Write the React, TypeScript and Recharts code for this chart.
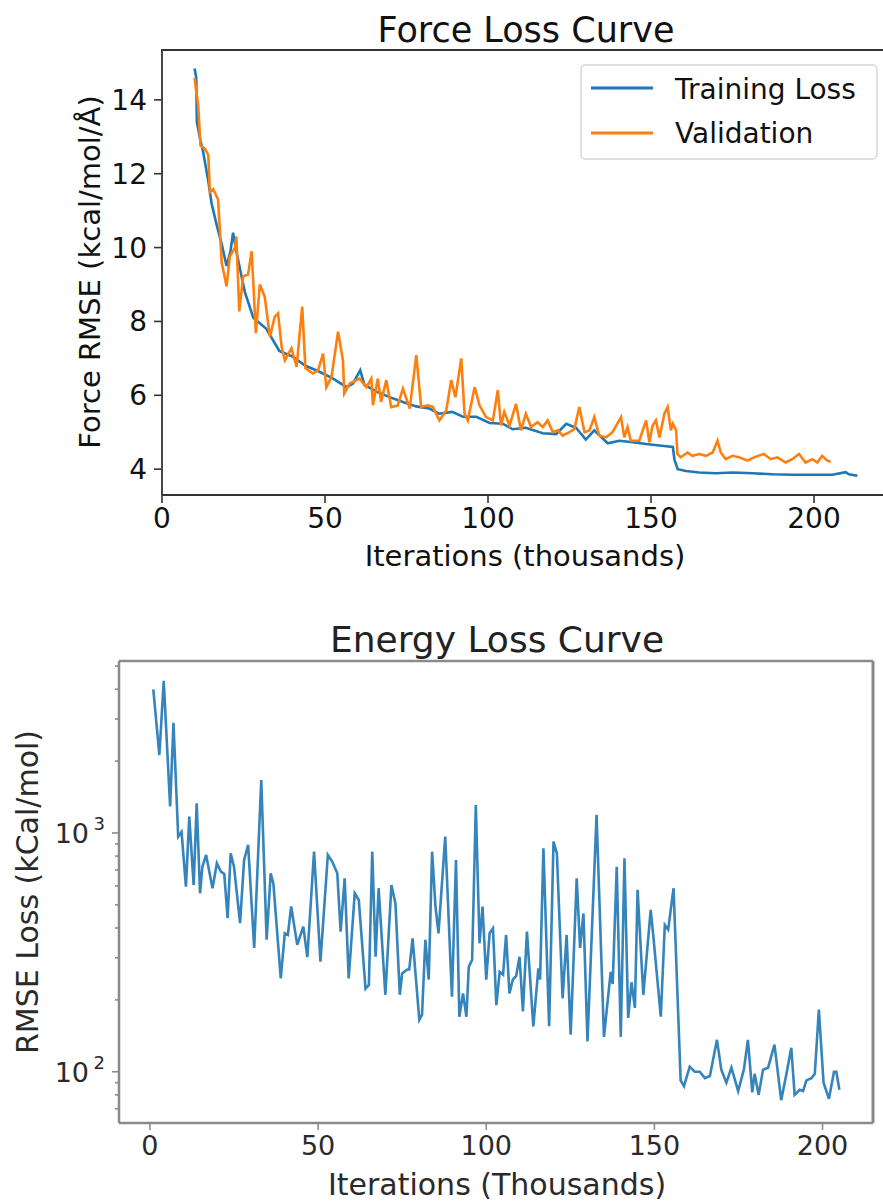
import { Line, LineChart, XAxis, YAxis } from "recharts";

// Two matplotlib-style loss curves, stacked: force RMSE (linear) and energy RMSE (log y).
const FONT = "DejaVu Sans, Verdana, sans-serif";
const BLUE = "#1f77b4";
const ORANGE = "#ff7f0e";

// --- Force loss: training curve (iterations in thousands, RMSE kcal/mol/Å)
const trainIter = [
  10, 10.5, 10.7, 11.8, 12.6, 14.2, 15.2, 16.8, 18.3, 19.8, 21, 21.8, 22.8, 25.4, 28, 32, 36, 40, 44, 48,
  52.5, 56.6, 58.6, 60.8, 62.1, 65.8, 69.8, 73.9, 78, 82, 85, 89, 92.3, 96.4, 100.5, 104.5, 107.6, 111.6,
  116.8, 120.9, 124, 127, 130, 132.6, 136.7, 140.3, 144.4, 148.5, 152.6, 156.7, 157.2, 158.2, 160.7, 164.8,
  169.9, 175, 181.2, 187.3, 193.4, 199.5, 205.6, 209.7, 210.7, 213.3,
];
const trainRmse = [
  14.85, 14.6, 13.4, 12.9, 12.6, 11.8, 11.2, 10.6, 10.1, 9.5, 9.9, 10.4, 9.9, 8.8, 8.1, 7.8, 7.2, 7.05, 6.8,
  6.65, 6.45, 6.22, 6.32, 6.68, 6.28, 6.1, 5.95, 5.82, 5.7, 5.64, 5.5, 5.55, 5.42, 5.42, 5.25, 5.23, 5.08,
  5.12, 4.97, 4.95, 5.23, 5.12, 4.8, 5.05, 4.7, 4.77, 4.73, 4.68, 4.64, 4.6, 4.25, 4.0, 3.95, 3.91, 3.89,
  3.91, 3.89, 3.86, 3.85, 3.85, 3.85, 3.92, 3.86, 3.82,
];

// --- Force loss: validation curve
const valIter = [
  10, 10.4, 11.1, 11.8, 13.2, 14.2, 14.7, 15.7, 17.2, 17.8, 18.3, 19.8, 20.8, 22.4, 22.8, 23.7, 24.9, 26.4,
  27.5, 28.8, 30, 31.5, 33.1, 34.6, 35.6, 36.7, 37.7, 39.7, 41.3, 43, 44, 46.3, 47.9, 49.4, 50.4, 52, 54,
  55.5, 55.9, 57.6, 60.6, 62.7, 64.2, 64.7, 66.2, 67.2, 68.8, 70.3, 72.3, 73.9, 76, 78, 79.5, 81.6, 83.1,
  85.1, 87.2, 88.7, 90, 91.8, 92.8, 93.8, 95.9, 97.4, 99.4, 101.5, 103, 104, 105, 106.6, 108.6, 110.1,
  111.6, 113.2, 115.2, 116.8, 118.3, 119.9, 121.4, 122.9, 125, 126.5, 128, 129.6, 131.1, 132.6, 134.1,
  136.2, 138.2, 140.8, 141.8, 142.8, 143.8, 146.4, 148.5, 149.5, 150.5, 151.5, 152.6, 154.1, 155.1, 156.1,
  156.7, 157.7, 158.1, 159.1, 161.2, 162.7, 164.8, 166.8, 168.9, 170.4, 171.4, 172.9, 175, 177, 179.6,
  181.6, 184.6, 186.7, 188.8, 191.3, 193.3, 195.4, 197.4, 199.5, 201, 202.5, 204.1, 205.1,
];
const valRmse = [
  14.6, 14.3, 13.85, 12.76, 12.67, 12.5, 11.5, 11.58, 11.3, 10.4, 9.6, 8.95, 9.76, 10.0, 10.3, 8.27, 9.22,
  9.27, 9.9, 7.68, 9.0, 8.67, 7.59, 8.13, 8.22, 7.31, 6.95, 7.27, 6.77, 8.4, 6.73, 6.59, 6.68, 7.13, 6.22,
  6.5, 7.72, 6.95, 6.05, 6.32, 6.45, 6.22, 6.45, 5.73, 6.45, 5.82, 6.41, 5.68, 5.72, 6.18, 5.64, 7.09, 5.68,
  5.73, 5.68, 5.32, 5.59, 6.41, 5.95, 7.0, 5.5, 5.32, 6.22, 5.73, 5.41, 5.32, 6.14, 5.18, 5.55, 5.18, 5.77,
  5.05, 5.5, 5.14, 5.27, 5.14, 5.32, 5.0, 5.05, 4.91, 5.0, 5.09, 5.68, 5.0, 5.05, 5.41, 4.91, 4.86, 5.0,
  5.41, 4.86, 5.14, 4.77, 4.77, 5.32, 4.73, 5.18, 5.32, 4.86, 5.5, 5.68, 5.05, 5.23, 5.05, 4.41, 4.32, 4.45,
  4.36, 4.41, 4.36, 4.45, 4.77, 4.45, 4.27, 4.36, 4.32, 4.23, 4.32, 4.41, 4.27, 4.32, 4.18, 4.27, 4.41,
  4.18, 4.27, 4.18, 4.36, 4.23, 4.2,
];

// --- Energy loss (iterations in thousands, RMSE kCal/mol, log scale)
const energyIter = [
  1, 2.8, 4.1, 6, 7, 8.4, 9.4, 10.7, 11.7, 13, 13.9, 14.9, 15.6, 16.7, 18.6, 19.9, 21.1, 22.1, 23.1, 24, 25,
  26.8, 28, 29.2, 31, 33.1, 34.7, 35.9, 36.7, 38.9, 40.1, 41, 42, 43.8, 45.6, 46.8, 48.8, 50.7, 52.9, 54.2,
  55.7, 56.7, 57.9, 59.1, 60.9, 62.1, 64.1, 65.1, 66.1, 67.1, 68, 70, 71.8, 73, 74.3, 75, 76.5, 77.1, 78.1,
  80.1, 80.9, 81.9, 82.9, 83.9, 84.9, 85.8, 87.8, 89.8, 91, 92, 93.1, 94.1, 94.8, 95.8, 96.9, 98, 98.9, 100,
  101, 102, 103, 104, 105, 105.9, 106.9, 107.9, 108.9, 109.9, 110.9, 112.1, 114, 115.5, 116, 117, 118.7,
  120, 121, 122.7, 123.9, 125.1, 126.9, 127.9, 128.9, 130.1, 132.8, 135, 137, 137.6, 138.8, 140, 141.1,
  142.2, 143.2, 144.2, 145, 146.7, 148.9, 149.7, 151.9, 153.1, 154.1, 155.7, 157.8, 158.8, 160.5, 162,
  163.5, 165, 166.5, 168.6, 169.9, 171.4, 172.9, 174.9, 176.6, 177.8, 179.1, 179.8, 181, 182.3, 183.8,
  185.7, 187.7, 189.2, 190.7, 191.7, 193.2, 194.2, 195.2, 196.7, 197.7, 198.9, 200.3, 201.9, 203.4, 204.1,
  205,
];
const energyRmse = [
  3990, 2120, 4340, 1290, 2890, 965, 1010, 596, 1170, 605, 1330, 559, 722, 809, 587, 747, 689, 673, 440, 822,
  722, 419, 771, 891, 330, 1667, 357, 678, 615, 246, 380, 374, 492, 340, 405, 302, 835, 289, 809, 759, 678,
  386, 646, 246, 559, 524, 223, 231, 835, 303, 587, 210, 605, 507, 210, 258, 268, 268, 362, 165, 173, 357,
  243, 835, 492, 380, 965, 206, 771, 170, 213, 170, 275, 294, 1310, 345, 492, 243, 380, 398, 190, 262, 255,
  374, 213, 243, 252, 303, 179, 386, 155, 271, 243, 863, 155, 920, 822, 203, 374, 143, 646, 330, 460, 134,
  1190, 140, 262, 233, 722, 140, 783, 168, 237, 185, 578, 210, 476, 367, 170, 412, 394, 587, 92, 87, 105,
  100, 100, 94, 96, 136, 102, 90, 104, 83, 102, 136, 82, 98, 80, 102, 104, 130, 76, 97, 126, 80, 84, 83, 92,
  94, 98, 182, 90, 77, 100, 100, 84,
];

const forceXTicks = [0, 50, 100, 150, 200];
const forceYTicks = [4, 6, 8, 10, 12, 14];
const energyXTicks = [0, 50, 100, 150, 200];
const energyYTicks = [70, 80, 90, 100, 200, 300, 400, 500, 600, 700, 800, 900, 1000, 2000, 3000, 4000, 5000];
const legendNames = ["Training Loss", "Validation"];

const zip = (xs: number[], ys: number[]) => xs.map((x, i) => ({ x, y: ys[i] }));
const trainData = zip(trainIter, trainRmse);
const valData = zip(valIter, valRmse);
const energyData = zip(energyIter, energyRmse);

const SPINE = "#333";
const GREY = "#8a8a8a";

const LogTick = (props: any) => {
  const { x, y, payload } = props;
  const v = payload.value as number;
  const exp = Math.log10(v);
  const major = Math.abs(exp - Math.round(exp)) < 1e-6;
  return (
    <g>
      <line x1={x - (major ? 7 : 4)} x2={x} y1={y} y2={y} stroke={GREY} strokeWidth={1.6} />
      {major && (
        <text x={x - 30} y={y + 10} textAnchor="end" fontSize={27} fontFamily={FONT} fill="#2a2a2a">
          10
          <tspan x={x - 14} y={y - 3} fontSize={18} textAnchor="end">
            {Math.round(exp)}
          </tspan>
        </text>
      )}
    </g>
  );
};

export default function App() {
  return (
    <div style={{ position: "absolute", left: 0, top: 0, width: 883, height: 1201, overflow: "hidden", background: "#fff" }}>
      <div style={{ position: "absolute", left: 0, top: 0 }}>
        <LineChart width={883} height={590} margin={{ top: 49, right: -6, bottom: 0, left: 0 }}>
          <XAxis
            dataKey="x"
            type="number"
            domain={[0, 223]}
            allowDataOverflow
            ticks={forceXTicks}
            interval={0}
            height={95}
            tickSize={8}
            tickMargin={5}
            axisLine={{ stroke: SPINE, strokeWidth: 1.8 }}
            tickLine={{ stroke: SPINE, strokeWidth: 1.6 }}
            tick={{ fontSize: 28, fill: "#111", fontFamily: FONT }}
          />
          <XAxis
            xAxisId="top"
            orientation="top"
            type="number"
            domain={[0, 223]}
            height={1}
            ticks={[]}
            tick={false}
            axisLine={{ stroke: SPINE, strokeWidth: 1.8 }}
          />
          <YAxis
            type="number"
            domain={[3.3, 15.35]}
            allowDataOverflow
            ticks={forceYTicks}
            interval={0}
            width={162}
            tickSize={8}
            tickMargin={7}
            axisLine={{ stroke: SPINE, strokeWidth: 1.8 }}
            tickLine={{ stroke: SPINE, strokeWidth: 1.6 }}
            tick={{ fontSize: 28, fill: "#111", fontFamily: FONT }}
          />
          <Line
            data={trainData}
            dataKey="y"
            type="linear"
            stroke={BLUE}
            strokeWidth={2.6}
            dot={false}
            activeDot={false}
            isAnimationActive={false}
          />
          <Line
            data={valData}
            dataKey="y"
            type="linear"
            stroke={ORANGE}
            strokeWidth={2.6}
            dot={false}
            activeDot={false}
            isAnimationActive={false}
          />
        </LineChart>
      </div>

      <div style={{ position: "absolute", left: 0, top: 600 }}>
        <LineChart width={883} height={601} margin={{ top: 60, right: 9, bottom: 0, left: 0 }}>
          <XAxis
            dataKey="x"
            type="number"
            domain={[-9.2, 215]}
            allowDataOverflow
            ticks={energyXTicks}
            interval={0}
            height={78}
            tickSize={7}
            tickMargin={6}
            axisLine={{ stroke: GREY, strokeWidth: 2.5 }}
            tickLine={{ stroke: GREY, strokeWidth: 1.6 }}
            tick={{ fontSize: 27, fill: "#2a2a2a", fontFamily: FONT }}
          />
          <XAxis
            xAxisId="top"
            orientation="top"
            type="number"
            domain={[-9.2, 215]}
            height={1}
            ticks={[]}
            tick={false}
            axisLine={{ stroke: GREY, strokeWidth: 2.5 }}
          />
          <YAxis
            type="number"
            scale="log"
            domain={[61, 5250]}
            allowDataOverflow
            ticks={energyYTicks}
            interval={0}
            width={119}
            tickSize={0}
            tickMargin={0}
            tickLine={false}
            axisLine={{ stroke: GREY, strokeWidth: 2.5 }}
            tick={<LogTick />}
          />
          <YAxis
            yAxisId="right"
            orientation="right"
            type="number"
            domain={[0, 1]}
            width={1}
            ticks={[]}
            tick={false}
            axisLine={{ stroke: GREY, strokeWidth: 3 }}
          />
          <Line
            data={energyData}
            dataKey="y"
            type="linear"
            stroke={BLUE}
            strokeOpacity={0.9}
            strokeWidth={2.6}
            dot={false}
            activeDot={false}
            isAnimationActive={false}
          />
        </LineChart>
      </div>

      <svg
        width={883}
        height={1201}
        style={{ position: "absolute", left: 0, top: 0, pointerEvents: "none" }}
        fontFamily={FONT}
      >
        {/* top spine of the force axes frame (its right spine falls outside the crop) */}
        <line x1={161} x2={883} y1={50} y2={50} stroke={SPINE} strokeWidth={1.8} />

        <text x={526} y={42} textAnchor="middle" fontSize={35} fill="#111">
          Force Loss Curve
        </text>
        <text x={525} y={566} textAnchor="middle" fontSize={29} fill="#111">
          Iterations (thousands)
        </text>
        <text transform="translate(100,272) rotate(-90)" textAnchor="middle" fontSize={29} fill="#111">
          Force RMSE (kcal/mol/Å)
        </text>

        <rect x={581} y={65} width={296} height={94} rx={4} fill="#fff" fillOpacity={0.8} stroke="#d6d6d6" strokeWidth={1.5} />
        <line x1={591} x2={653} y1={88} y2={88} stroke={BLUE} strokeWidth={2.8} />
        <line x1={591} x2={653} y1={133} y2={133} stroke={ORANGE} strokeWidth={2.8} />
        <text x={675} y={99} fontSize={28} fill="#111">
          {legendNames[0]}
        </text>
        <text x={675} y={143} fontSize={28} fill="#111">
          {legendNames[1]}
        </text>

        <text x={497} y={652} textAnchor="middle" fontSize={36} fill="#222">
          Energy Loss Curve
        </text>
        <text x={497} y={1195} textAnchor="middle" fontSize={30} fill="#2a2a2a">
          Iterations (Thousands)
        </text>
        <text transform="translate(38,892) rotate(-90)" textAnchor="middle" fontSize={30} fill="#2a2a2a">
          RMSE Loss (kCal/mol)
        </text>
      </svg>
    </div>
  );
}
